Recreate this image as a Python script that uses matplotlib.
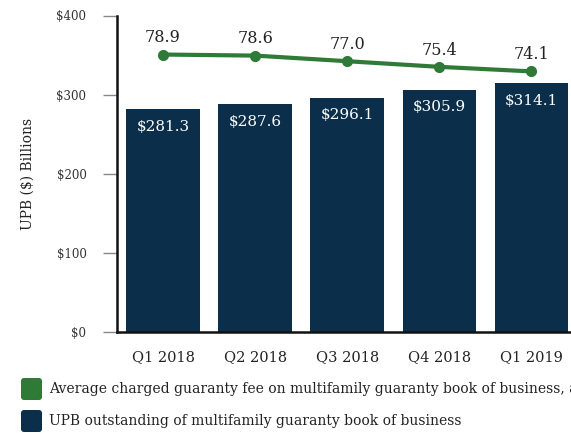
import matplotlib
matplotlib.use("Agg")
import matplotlib.pyplot as plt
from matplotlib.patches import FancyBboxPatch

# Quarterly multifamily guaranty book figures
quarters = ["Q1 2018", "Q2 2018", "Q3 2018", "Q4 2018", "Q1 2019"]
upb_billions = [281.3, 287.6, 296.1, 305.9, 314.1]
guaranty_fee_bps = [78.9, 78.6, 77.0, 75.4, 74.1]
upb_ticks = [0, 100, 200, 300, 400]
upb_tick_labels = ["$0", "$100", "$200", "$300", "$400"]
fee_label = "Average charged guaranty fee on multifamily guaranty book of business, annualized (bps)"
upb_label = "UPB outstanding of multifamily guaranty book of business"

NAVY = "#0b2f4b"
GREEN = "#2f7a37"
TEXT = "#222222"

plt.rcParams["font.family"] = ["DejaVu Serif"]

W, H = 571, 434
fig = plt.figure(figsize=(W / 100, H / 100), dpi=100)
fig.patch.set_facecolor("white")

# axes box in pixel terms: left spine x=117, top y=15.5, bottom y=332
left, top, bottom = 117, 15.5, 332
ax = fig.add_axes([left / W, (H - bottom) / H, 460.5 / W, (bottom - top) / H])
x = list(range(len(quarters)))

bars = ax.bar(x, upb_billions, width=0.8, color=NAVY, zorder=2)
ax.set_xlim(-0.5, 4.5)
ax.set_ylim(0, 400)
ax.set_yticks(upb_ticks)
ax.set_yticklabels(upb_tick_labels, fontsize=8.5, color="#333333")
ax.set_xticks(x)
ax.set_xticklabels(quarters, fontsize=10.5, color=TEXT)
ax.tick_params(axis="x", length=0, pad=13)
ax.tick_params(axis="y", length=10, width=1, color="#888888", pad=12)
for s in ("top", "right"):
    ax.spines[s].set_visible(False)
ax.spines["left"].set_linewidth(1.8)
ax.spines["bottom"].set_linewidth(1.8)
ax.spines["left"].set_color("#111111")
ax.spines["bottom"].set_color("#111111")
ax.set_ylabel("UPB ($) Billions", fontsize=10, color=TEXT, labelpad=16)

for xi, v in zip(x, upb_billions):
    ax.annotate(f"${v:.1f}", (xi, v), xytext=(0, -12.5), textcoords="offset points",
                ha="center", va="center", color="white", fontsize=11, zorder=3)

# guaranty fee line on a hidden secondary scale
ax2 = ax.twinx()
ax2.set_ylim(0, 90)
ax2.plot(x, guaranty_fee_bps, color=GREEN, lw=3, marker="o", markersize=7, zorder=3)
ax2.axis("off")
for xi, v in zip(x, guaranty_fee_bps):
    ax2.annotate(f"{v:.1f}", (xi, v), xytext=(0, 12), textcoords="offset points",
                 ha="center", va="center", color=TEXT, fontsize=11.5)

# legend drawn in pixel coordinates below the axes
for (ytop, color, label) in [(378, GREEN, fee_label), (410, NAVY, upb_label)]:
    box = FancyBboxPatch((21, H - ytop - 22), 21, 22,
                         boxstyle="round,pad=0,rounding_size=3",
                         transform=None, facecolor=color, edgecolor="none")
    fig.add_artist(box)
    fig.text(49 / W, (H - ytop - 11) / H, label, fontsize=10, color=TEXT,
             ha="left", va="center")

fig.savefig("out.png", dpi=100, facecolor="white")
